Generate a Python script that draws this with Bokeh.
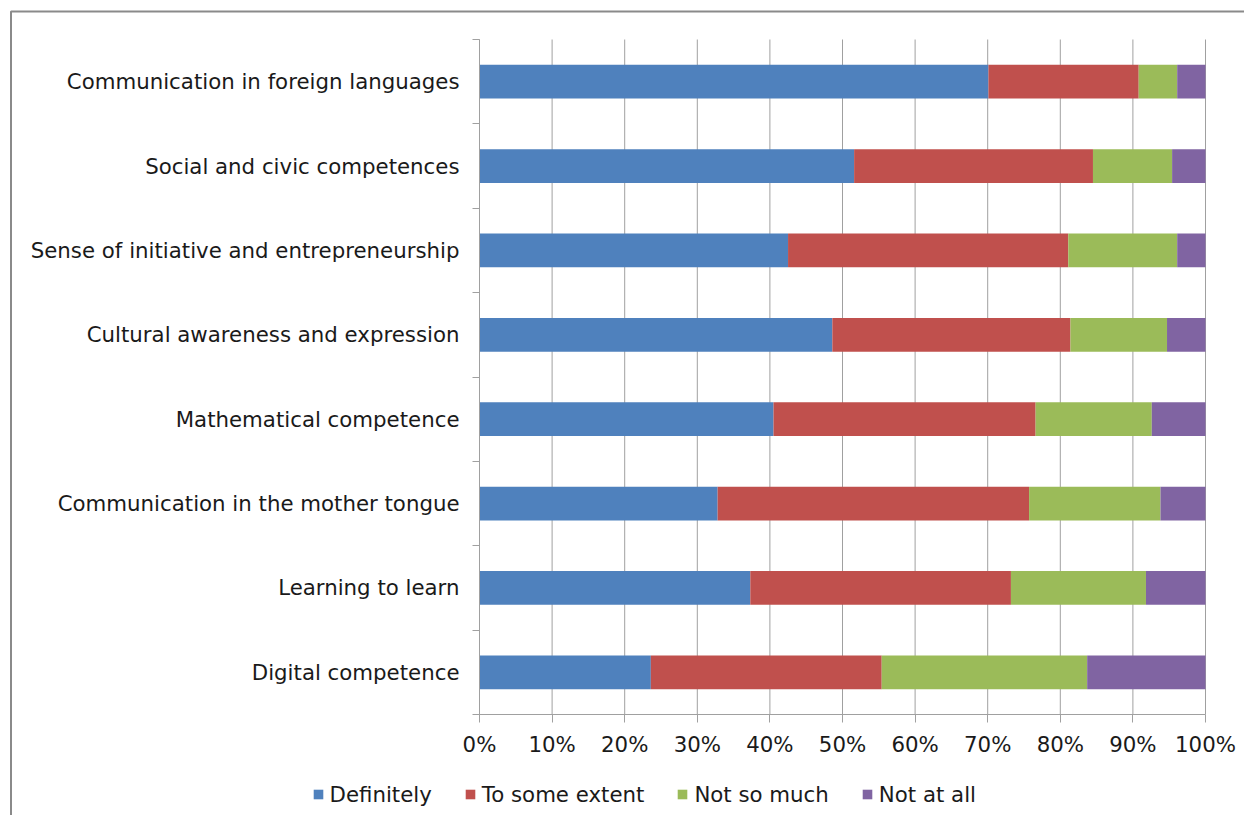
from bokeh.plotting import figure
from bokeh.models import (Range1d, FixedTicker, ColumnDataSource, Legend, LegendItem,
                          BoxAnnotation, PrintfTickFormatter, LinearAxis)
from bokeh.embed import file_html
from bokeh.resources import INLINE

# ---- data (percent of respondents), top-to-bottom order as in the chart ----
categories = [
    "Communication in foreign languages",
    "Social and civic competences",
    "Sense of initiative and entrepreneurship",
    "Cultural awareness and expression",
    "Mathematical competence",
    "Communication in the mother tongue",
    "Learning to learn",
    "Digital competence",
]
definitely = [70.1, 51.6, 42.5, 48.6, 40.5, 32.8, 37.3, 23.6]
to_some_extent = [20.7, 32.9, 38.6, 32.8, 36.1, 42.9, 35.9, 31.8]
not_so_much = [5.3, 10.9, 15.0, 13.3, 16.0, 18.1, 18.6, 28.3]
not_at_all = [3.9, 4.6, 3.9, 5.3, 7.4, 6.2, 8.2, 16.3]
series_names = ["Definitely", "To some extent", "Not so much", "Not at all"]
colors = ["#4F81BD", "#C0504D", "#9BBB59", "#8064A2"]
x_ticks = [0, 10, 20, 30, 40, 50, 60, 70, 80, 90, 100]

FONT = "DejaVu Sans"
FS = "21.3px"
TXT = "#1a1a1a"
GRID = "#a0a0a0"

# ---- layout (pixels) ----
W, H = 1244, 815
PX0, PX100 = 479, 1205      # plot area left/right
PY_TOP, PY_BOT = 39, 714    # plot area top/bottom

n = len(categories)
ypos = [n - 1 - i for i in range(n)]
kx = (PX100 - PX0) / 100.0
ky = (PY_BOT - PY_TOP) / n
x_range = Range1d(-PX0 / kx, 100 + (W - PX100) / kx)
y_range = Range1d(-0.5 - (H - PY_BOT) / ky, n - 0.5 + PY_TOP / ky)

source = ColumnDataSource(dict(y=ypos, d=definitely, s=to_some_extent,
                               ns=not_so_much, na=not_at_all))

p = figure(width=W, height=H, x_range=x_range, y_range=y_range,
           x_axis_location=None, y_axis_location=None, min_border=0,
           output_backend="svg", toolbar_location=None)
p.center = []
p.outline_line_color = None
p.background_fill_color = "white"
p.border_fill_color = "white"

# vertical gridlines spanning the plot area only
p.segment(x0=x_ticks, y0=[-0.5] * len(x_ticks), x1=x_ticks, y1=[n - 0.5] * len(x_ticks),
          line_color=GRID, line_width=1)

renderers = p.hbar_stack(["d", "s", "ns", "na"], y="y", height=0.4,
                         fill_color=colors, line_color=None, source=source)

# x axis
xaxis = LinearAxis(fixed_location=-0.5, bounds=(0, 100),
                   ticker=FixedTicker(ticks=x_ticks, minor_ticks=[]),
                   formatter=PrintfTickFormatter(format="%d%%"))
xaxis.major_tick_out = 8
xaxis.major_tick_in = 0
xaxis.minor_tick_out = 0
xaxis.major_tick_line_color = GRID
xaxis.axis_line_color = GRID
xaxis.major_label_standoff = 9
p.add_layout(xaxis, "below")

# y axis: labels at category centres, small ticks at category boundaries
yaxis = LinearAxis(fixed_location=0, bounds=(-0.5, n - 0.5),
                   ticker=FixedTicker(ticks=ypos, minor_ticks=[k - 0.5 for k in range(n + 1)]))
yaxis.major_label_overrides = {y: c for y, c in zip(ypos, categories)}
yaxis.major_tick_out = 0
yaxis.major_tick_in = 0
yaxis.minor_tick_out = 7
yaxis.minor_tick_in = 0
yaxis.minor_tick_line_color = GRID
yaxis.axis_line_color = GRID
yaxis.major_label_standoff = 13
p.add_layout(yaxis, "left")

for ax in (xaxis, yaxis):
    ax.major_label_text_font = FONT
    ax.major_label_text_font_size = FS
    ax.major_label_text_color = TXT

# legend below the chart
legend = Legend(
    items=[LegendItem(label=name, renderers=[r]) for name, r in zip(series_names, renderers)],
    orientation="horizontal", location=(311.5, 8.5), padding=0, margin=0,
    spacing=32, glyph_width=12, glyph_height=12, label_standoff=6,
    border_line_color=None, background_fill_alpha=0,
    label_text_font=FONT, label_text_font_size=FS, label_text_color=TXT,
)
p.add_layout(legend)

# outer chart border (its left and top edges are visible)
p.add_layout(BoxAnnotation(left=(10.5 - PX0) / kx, right=x_range.end + 50,
                           top=(n - 0.5) + (PY_TOP - 11) / ky, bottom=y_range.start - 5,
                           fill_color=None, fill_alpha=0, line_color="#8a8a8a",
                           line_alpha=1.0, line_width=2))

open("out.html", "w").write(file_html(p, INLINE))
